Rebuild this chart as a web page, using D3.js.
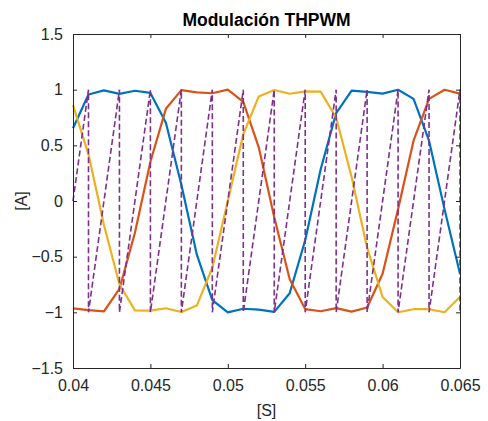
<!DOCTYPE html>
<html>
<head>
<meta charset="utf-8">
<script src="https://cdn.jsdelivr.net/npm/d3@7"></script>
<style>
  body { margin: 0; background: #fff; }
  svg { font-family: "Liberation Sans", Arial, sans-serif; }
</style>
</head>
<body>
<div id="chart"></div>
<script>
// sample times (s)
const times = [0.040, 0.041, 0.042, 0.043, 0.044, 0.045, 0.046, 0.047, 0.048, 0.049,
  0.050, 0.051, 0.052, 0.053, 0.054, 0.055, 0.056, 0.057, 0.058, 0.059,
  0.060, 0.061, 0.062, 0.063, 0.064, 0.065];

// modulating signals
const phaseA = [0.653, 0.957, 0.994, 0.962, 0.990, 0.971, 0.703, 0.145, -0.482, -0.891,
  -1.0, -0.968, -0.976, -0.996, -0.828, -0.353, 0.285, 0.790, 0.991, 0.980,
  0.965, 0.999, 0.917, 0.542, -0.073, -0.653];
const phaseB = [-0.965, -0.980, -0.991, -0.790, -0.285, 0.353, 0.828, 0.996, 0.976, 0.968,
  1.0, 0.891, 0.482, -0.145, -0.703, -0.971, -0.990, -0.962, -0.994, -0.957,
  -0.653, -0.073, 0.542, 0.917, 0.999, 0.965];
const phaseC = [0.862, 0.419, -0.216, -0.748, -0.982, -0.985, -0.963, -0.997, -0.939, -0.599,
  0.0, 0.599, 0.939, 0.997, 0.963, 0.985, 0.982, 0.748, 0.216, -0.419,
  -0.862, -0.999, -0.972, -0.972, -0.999, -0.862];

// sawtooth carrier vertices
const carrierT = [0.040, 0.041, 0.041, 0.043, 0.043, 0.045, 0.045, 0.047, 0.047, 0.049,
  0.049, 0.051, 0.051, 0.053, 0.053, 0.055, 0.055, 0.057, 0.057, 0.059,
  0.059, 0.061, 0.061, 0.063, 0.063, 0.065, 0.065];
const carrierV = [0, 1, -1, 1, -1, 1, -1, 1, -1, 1,
  -1, 1, -1, 1, -1, 1, -1, 1, -1, 1,
  -1, 1, -1, 1, -1, 1, -1];

const xTicks = [0.04, 0.045, 0.05, 0.055, 0.06, 0.065];
const yTicks = [-1.5, -1, -0.5, 0, 0.5, 1, 1.5];

const width = 488, height = 421;
const margin = { top: 34, right: 28, bottom: 53, left: 73 };
const innerW = width - margin.left - margin.right;
const innerH = height - margin.top - margin.bottom;

const x = d3.scaleLinear().domain([0.04, 0.065]).range([0, innerW]);
const y = d3.scaleLinear().domain([-1.5, 1.5]).range([innerH, 0]);

const svg = d3.select("#chart").append("svg")
  .attr("width", width)
  .attr("height", height);

svg.append("defs").append("clipPath").attr("id", "clip")
  .append("rect").attr("x", -1).attr("y", -1)
  .attr("width", innerW + 2).attr("height", innerH + 2);

const g = svg.append("g").attr("transform", `translate(${margin.left},${margin.top})`);

const plot = g.append("g").attr("clip-path", "url(#clip)");

const line = d3.line().x(d => x(d[0])).y(d => y(d[1]));

const series = [
  { vals: phaseA, color: "#0072BD" },
  { vals: phaseB, color: "#D95319" },
  { vals: phaseC, color: "#EDB120" }
];

series.forEach(s => {
  plot.append("path")
    .datum(times.map((t, i) => [t, s.vals[i]]))
    .attr("fill", "none")
    .attr("stroke", s.color)
    .attr("stroke-width", 2.2)
    .attr("stroke-linejoin", "round")
    .attr("d", line);
});

plot.append("path")
  .datum(carrierT.map((t, i) => [t, carrierV[i]]))
  .attr("fill", "none")
  .attr("stroke", "#7E2F8E")
  .attr("stroke-width", 1.6)
  .attr("stroke-dasharray", "6,3")
  .attr("d", line);

// axes (MATLAB-style box, ticks inward)
const axisColor = "#262626";
const tickLen = 4;

const xAxis = g.append("g").attr("transform", `translate(0,${innerH})`)
  .call(d3.axisBottom(x).tickValues(xTicks).tickSizeInner(-tickLen).tickSizeOuter(0)
    .tickPadding(12).tickFormat(d3.format("")));
const xTop = g.append("g")
  .call(d3.axisTop(x).tickValues(xTicks).tickSizeInner(-tickLen).tickSizeOuter(0).tickFormat(""));
const yAxis = g.append("g")
  .call(d3.axisLeft(y).tickValues(yTicks).tickSizeInner(-tickLen).tickSizeOuter(0)
    .tickPadding(10).tickFormat(d3.format("")));
const yRight = g.append("g").attr("transform", `translate(${innerW},0)`)
  .call(d3.axisRight(y).tickValues(yTicks).tickSizeInner(-tickLen).tickSizeOuter(0).tickFormat(""));

[xAxis, xTop, yAxis, yRight].forEach(a => {
  a.select(".domain").attr("stroke", axisColor).attr("stroke-width", 1);
  a.selectAll(".tick line").attr("stroke", axisColor).attr("stroke-width", 1);
  a.selectAll(".tick text").attr("fill", axisColor).style("font-size", "16px");
});

// title and labels
svg.append("text")
  .attr("x", margin.left + innerW / 2)
  .attr("y", 26)
  .attr("text-anchor", "middle")
  .style("font-size", "17.5px")
  .style("font-weight", "bold")
  .attr("fill", "#000")
  .text("Modulación THPWM");

svg.append("text")
  .attr("x", margin.left + innerW / 2)
  .attr("y", 416)
  .attr("text-anchor", "middle")
  .style("font-size", "16px")
  .attr("fill", axisColor)
  .text("[S]");

svg.append("text")
  .attr("transform", `translate(27,${margin.top + innerH / 2}) rotate(-90)`)
  .attr("text-anchor", "middle")
  .style("font-size", "16px")
  .attr("fill", axisColor)
  .text("[A]");
</script>
</body>
</html>
